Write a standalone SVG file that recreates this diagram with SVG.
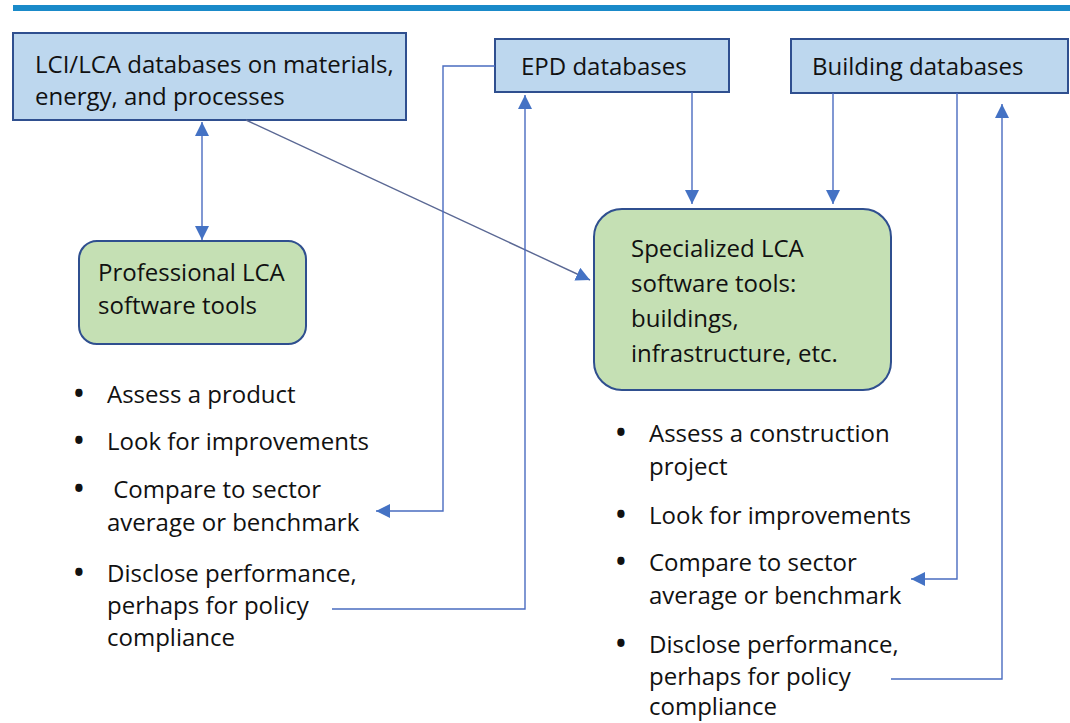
<svg xmlns="http://www.w3.org/2000/svg" width="1070" height="723" viewBox="0 0 1070 723">
  <style>
    text { font-family: "Open Sans", "Liberation Sans", sans-serif; font-size: 24px; fill: #111111; }
    .b { font-size: 26px; font-weight: bold; }
    .db { fill: #bdd7ee; stroke: #2f4f8f; stroke-width: 2; }
    .tool { fill: #c5e0b4; stroke: #2f4f8f; stroke-width: 2; }
    .ln { fill: none; stroke: #4a6cc0; stroke-width: 1.4; }
    .lg { fill: none; stroke: #5a6894; stroke-width: 1.4; }
  </style>
  <defs>
    <marker id="ah" markerUnits="userSpaceOnUse" viewBox="0 0 14 14" refX="14" refY="7" markerWidth="14" markerHeight="14" orient="auto-start-reverse">
      <path d="M0,0 L14,7 L0,14 Z" fill="#4472c4"/>
    </marker>
  </defs>
  <rect x="13" y="5" width="1057" height="6" fill="#1a8ac9"/>

  <g id="lci-db">
    <rect class="db" x="13" y="33" width="393" height="87"/>
    <text x="35" y="73">LCI/LCA databases on materials,</text>
    <text x="35" y="105">energy, and processes</text>
  </g>
  <g id="epd-db">
    <rect class="db" x="495" y="39" width="234" height="53"/>
    <text x="521" y="75">EPD databases</text>
  </g>
  <g id="building-db">
    <rect class="db" x="791" y="39" width="277" height="54"/>
    <text x="812" y="75">Building databases</text>
  </g>
  <g id="professional-tools">
    <rect class="tool" x="79" y="241" width="227" height="103" rx="18"/>
    <text x="98" y="281">Professional LCA</text>
    <text x="98" y="314">software tools</text>
  </g>
  <g id="specialized-tools">
    <rect class="tool" x="594" y="209" width="297" height="181" rx="28"/>
    <text x="631" y="257">Specialized LCA</text>
    <text x="631" y="292">software tools:</text>
    <text x="631" y="327">buildings,</text>
    <text x="631" y="362">infrastructure, etc.</text>
  </g>
  <g id="professional-uses">
    <text class="b" x="74" y="403">•</text><text x="107" y="403">Assess a product</text>
    <text class="b" x="74" y="450">•</text><text x="107" y="450">Look for improvements</text>
    <text class="b" x="74" y="498">•</text><text x="107" y="498" xml:space="preserve"> Compare to sector</text>
    <text x="107" y="531">average or benchmark</text>
    <text class="b" x="74" y="582">•</text><text x="107" y="582">Disclose performance,</text>
    <text x="107" y="614">perhaps for policy</text>
    <text x="107" y="646">compliance</text>
  </g>
  <g id="specialized-uses">
    <text class="b" x="616" y="442">•</text><text x="649" y="442">Assess a construction</text>
    <text x="649" y="475">project</text>
    <text class="b" x="616" y="524">•</text><text x="649" y="524">Look for improvements</text>
    <text class="b" x="616" y="571">•</text><text x="649" y="571">Compare to sector</text>
    <text x="649" y="604">average or benchmark</text>
    <text class="b" x="616" y="653">•</text><text x="649" y="653">Disclose performance,</text>
    <text x="649" y="685">perhaps for policy</text>
    <text x="649" y="715">compliance</text>
  </g>

  <g id="connectors">
    <line class="ln" x1="202" y1="122" x2="202" y2="240" marker-start="url(#ah)" marker-end="url(#ah)"/>
    <line class="lg" x1="246" y1="120" x2="590" y2="280" marker-end="url(#ah)"/>
    <polyline class="ln" points="495,66 443,66 443,511 376,511" marker-end="url(#ah)"/>
    <polyline class="ln" points="332,609 525,609 525,95" marker-end="url(#ah)"/>
    <line class="ln" x1="692" y1="92" x2="692" y2="204" marker-end="url(#ah)"/>
    <line class="ln" x1="833" y1="93" x2="833" y2="204" marker-end="url(#ah)"/>
    <polyline class="ln" points="957,93 957,579 911,579" marker-end="url(#ah)"/>
    <polyline class="ln" points="891,679 1002,679 1002,104" marker-end="url(#ah)"/>
  </g>
</svg>
